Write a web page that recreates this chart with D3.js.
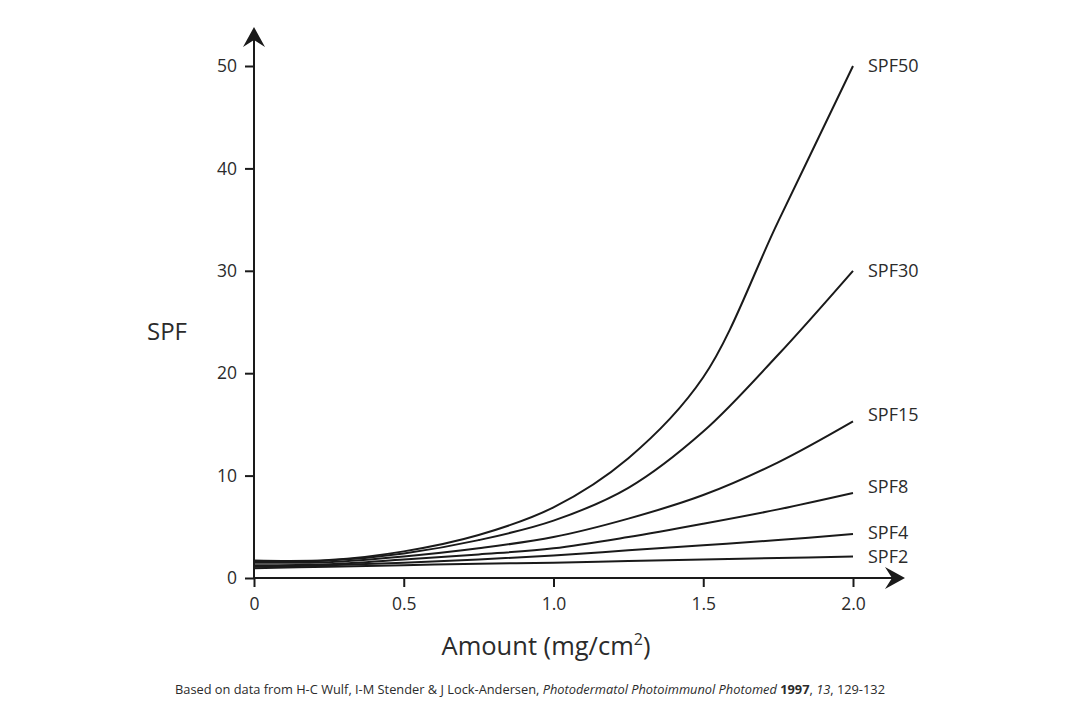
<!DOCTYPE html>
<html>
<head>
<meta charset="utf-8">
<script src="https://cdn.jsdelivr.net/npm/d3@7"></script>
<style>
  html, body { margin: 0; padding: 0; background: #fff; }
  svg { display: block; font-family: "Open Sans", "Noto Sans", sans-serif; }
</style>
</head>
<body>
<svg id="chart" width="1080" height="705"></svg>
<script>
// ---- data ----
const amounts = [0, 0.25, 0.5, 0.75, 1.0, 1.25, 1.5, 1.75, 2.0];
const spf50 = [1.7, 1.75, 2.6, 4.2, 6.9, 11.7, 19.6, 34.8, 50];
const spf30 = [1.6, 1.7, 2.4, 3.7, 5.6, 8.8, 14.3, 21.8, 30];
const spf15 = [1.5, 1.55, 2.1, 2.9, 4.0, 5.8, 8.1, 11.3, 15.3];
const spf8  = [1.25, 1.35, 1.8, 2.3, 2.9, 4.0, 5.3, 6.7, 8.3];
const spf4  = [1.1, 1.25, 1.5, 1.8, 2.2, 2.7, 3.2, 3.7, 4.3];
const spf2  = [0.95, 1.1, 1.25, 1.4, 1.5, 1.65, 1.8, 1.95, 2.1];
const seriesNames = ["SPF50", "SPF30", "SPF15", "SPF8", "SPF4", "SPF2"];
const seriesValues = [spf50, spf30, spf15, spf8, spf4, spf2];
const labelValues = [50, 30, 15.9, 8.9, 4.4, 2.1];
const xTicks = [0, 0.5, 1.0, 1.5, 2.0];
const xTickLabels = ["0", "0.5", "1.0", "1.5", "2.0"];
const yTicks = [0, 10, 20, 30, 40, 50];
const yTickLabels = ["0", "10", "20", "30", "40", "50"];

// ---- layout ----
const svg = d3.select("#chart");
const ink = "#1a1a1a";
const textCol = "#2b2b2b";
const x = d3.scaleLinear().domain([0, 2]).range([254, 853]);
const y = d3.scaleLinear().domain([0, 50]).range([578, 66]);

// axes lines with arrows
svg.append("line").attr("x1", x(0)).attr("x2", 893).attr("y1", y(0)).attr("y2", y(0))
  .attr("stroke", ink).attr("stroke-width", 2);
svg.append("line").attr("x1", x(0)).attr("x2", x(0)).attr("y1", y(0) + 1).attr("y2", 38)
  .attr("stroke", ink).attr("stroke-width", 2);
// arrowheads
svg.append("path")
  .attr("d", `M${x(0)},27 L${x(0) + 11},47 L${x(0)},40 L${x(0) - 11},47 Z`)
  .attr("fill", ink);
svg.append("path")
  .attr("d", `M905,${y(0)} L885,${y(0) - 11} L892,${y(0)} L885,${y(0) + 11} Z`)
  .attr("fill", ink);

// x axis ticks
const xAxis = d3.axisBottom(x).tickValues(xTicks)
  .tickFormat((d, i) => xTickLabels[i]).tickSize(9).tickPadding(11);
const gx = svg.append("g").attr("transform", `translate(0,${y(0)})`).call(xAxis);
gx.select(".domain").remove();
gx.selectAll(".tick line").attr("stroke", ink).attr("stroke-width", 2);
gx.selectAll(".tick text").attr("fill", textCol)
  .style("font-size", "17.5px").style("font-family", '"Open Sans", sans-serif');

// y axis ticks
const yAxis = d3.axisLeft(y).tickValues(yTicks)
  .tickFormat((d, i) => yTickLabels[i]).tickSize(9).tickPadding(8);
const gy = svg.append("g").attr("transform", `translate(${x(0)},0)`).call(yAxis);
gy.select(".domain").remove();
gy.selectAll(".tick line").attr("stroke", ink).attr("stroke-width", 2);
gy.selectAll(".tick text").attr("fill", textCol)
  .style("font-size", "17.5px").style("font-family", '"Open Sans", sans-serif');

// curves
const line = d3.line()
  .x((d, i) => x(amounts[i]))
  .y(d => y(d))
  .curve(d3.curveCatmullRom.alpha(0.5));
svg.append("g").selectAll("path").data(seriesValues).join("path")
  .attr("d", d => line(d))
  .attr("fill", "none").attr("stroke", ink).attr("stroke-width", 2);

// series labels
svg.append("g").selectAll("text").data(seriesNames).join("text")
  .attr("x", x(2) + 15)
  .attr("y", (d, i) => y(labelValues[i]))
  .attr("dy", "0.35em")
  .attr("fill", textCol)
  .style("font-size", "18px")
  .text(d => d);

// axis titles
svg.append("text").attr("x", 167).attr("y", 340).attr("text-anchor", "middle")
  .attr("fill", textCol).style("font-size", "24px").text("SPF");
const xt = svg.append("text").attr("x", 546).attr("y", 655).attr("text-anchor", "middle")
  .attr("fill", textCol).style("font-size", "25.5px");
xt.append("tspan").text("Amount (mg/cm");
xt.append("tspan").attr("dy", -10).style("font-size", "16px").text("2");
xt.append("tspan").attr("dy", 10).text(")");

// caption
const cap = svg.append("text").attr("x", 175).attr("y", 694)
  .attr("fill", textCol).style("font-size", "12px")
  .attr("textLength", 710).attr("lengthAdjust", "spacingAndGlyphs");
cap.append("tspan").text("Based on data from H-C Wulf, I-M Stender & J Lock-Andersen, ");
cap.append("tspan").style("font-style", "italic").text("Photodermatol Photoimmunol Photomed");
cap.append("tspan").text(" ");
cap.append("tspan").style("font-weight", "bold").text("1997");
cap.append("tspan").text(", ");
cap.append("tspan").style("font-style", "italic").text("13");
cap.append("tspan").text(", 129-132");
</script>
</body>
</html>
